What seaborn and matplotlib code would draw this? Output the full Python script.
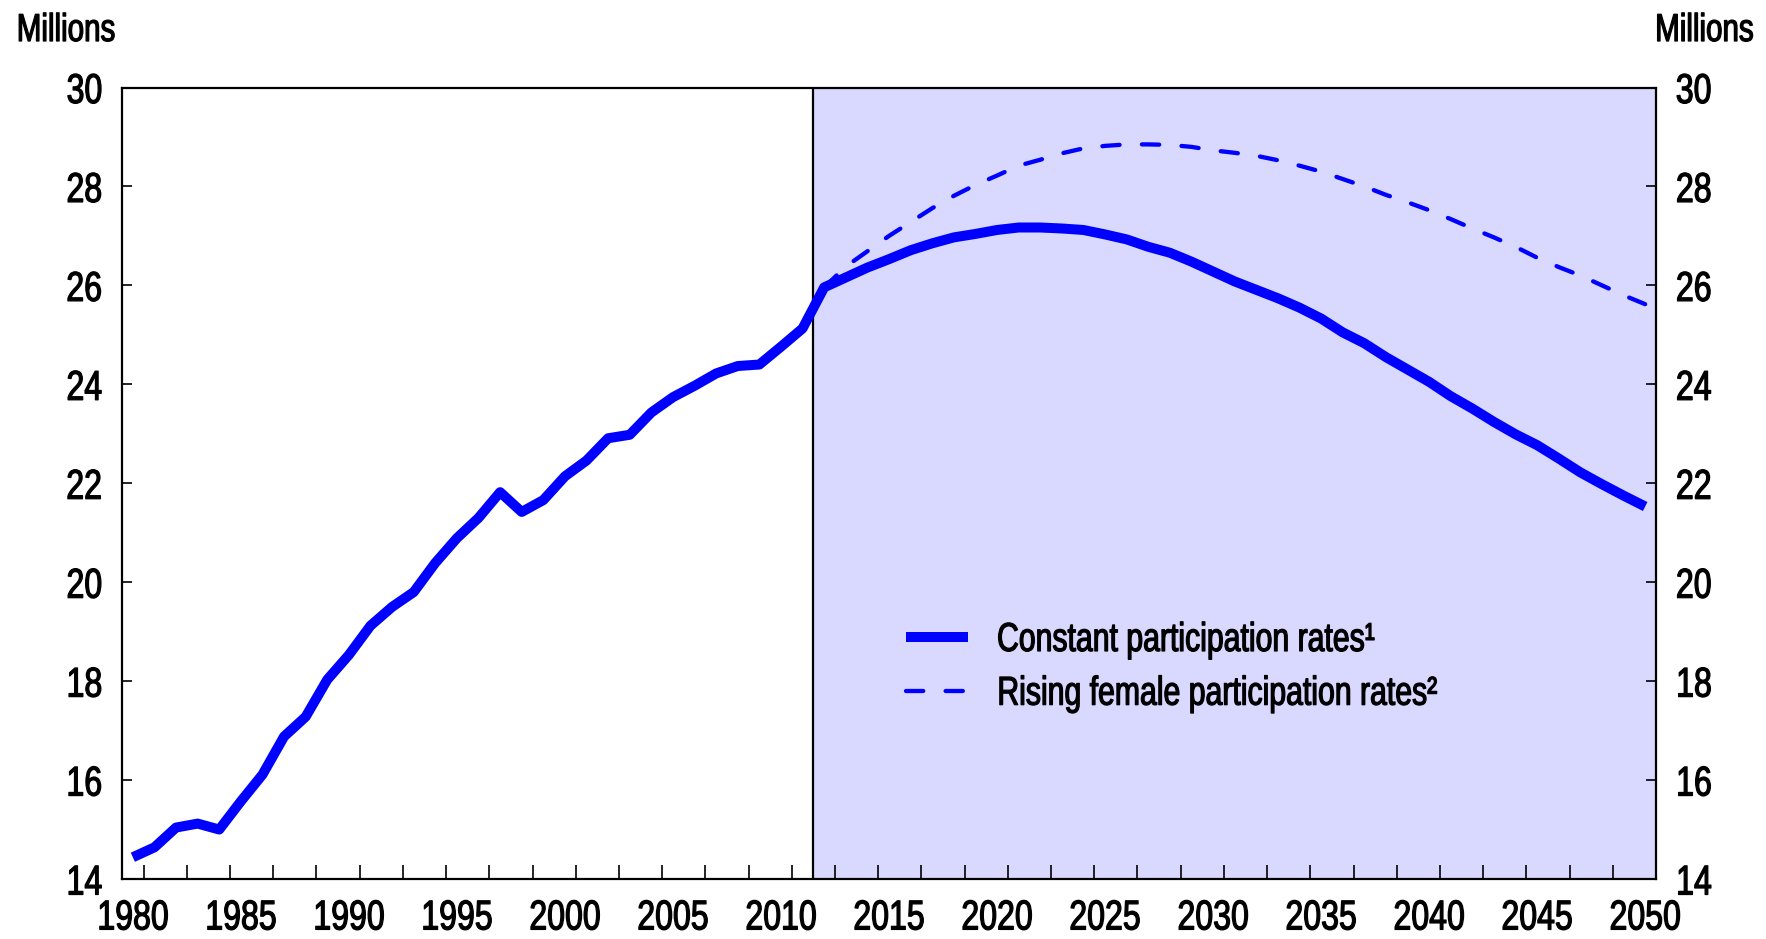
import numpy as np
import pandas as pd
import matplotlib.pyplot as plt
import seaborn as sns
from matplotlib.ticker import FixedLocator
from matplotlib.patheffects import AbstractPathEffect
from matplotlib.transforms import Affine2D

sns.set_style("ticks")
plt.rcParams['font.family'] = ['Liberation Sans', 'DejaVu Sans']
plt.rcParams.update({'text.color': 'black', 'xtick.color': 'black',
                     'ytick.color': 'black', 'axes.labelcolor': 'black'})

# labour force, millions
years = list(range(1980, 2051))
constant = [
    14.44, 14.64, 15.04, 15.12, 15.00, 15.57, 16.11, 16.88, 17.28, 18.03,
    18.53, 19.12, 19.50, 19.80, 20.39, 20.89, 21.30, 21.82, 21.42, 21.66,
    22.14, 22.46, 22.91, 22.98, 23.43, 23.74, 23.97, 24.22, 24.37, 24.40,
    24.76, 25.13, 25.96, 26.16, 26.36, 26.53, 26.71, 26.85, 26.97, 27.04,
    27.12, 27.17, 27.17, 27.15, 27.12, 27.03, 26.93, 26.78, 26.66, 26.48,
    26.28, 26.08, 25.91, 25.74, 25.55, 25.33, 25.05, 24.83, 24.55, 24.30,
    24.05, 23.76, 23.51, 23.24, 22.99, 22.77, 22.50, 22.22, 21.98, 21.75,
    21.53,
]
rising_years = list(range(2012, 2051))
rising = [
    25.96, 26.38, 26.69, 27.00, 27.28, 27.56, 27.81, 28.03,
    28.22, 28.42, 28.54, 28.67, 28.77, 28.82, 28.85, 28.85, 28.84, 28.80,
    28.73, 28.68, 28.62, 28.53, 28.42, 28.30, 28.15, 28.00, 27.83, 27.68,
    27.52, 27.34, 27.15, 26.97, 26.78, 26.56, 26.37, 26.20, 26.00, 25.80,
    25.62,
]
projection_start = 2011.5
label_const = "Constant participation rates\u00b9"
label_rising = "Rising female participation rates\u00b2"


class Narrow(AbstractPathEffect):
    # squeeze glyphs horizontally (no condensed font installed)
    def __init__(self, sx=0.75, anchor="center", stroke=0.9):
        super().__init__()
        self.sx = sx
        self.anchor = anchor
        self.stroke = stroke

    def draw_path(self, renderer, gc, tpath, affine, rgbFace=None):
        ext = tpath.get_extents()
        if self.anchor == "left":
            cx = ext.x0
        elif self.anchor == "right":
            cx = ext.x1
        else:
            cx = (ext.x0 + ext.x1) / 2
        t = Affine2D().translate(-cx, 0).scale(self.sx, 1).translate(cx, 0) + affine
        gc0 = renderer.new_gc()
        gc0.copy_properties(gc)
        if rgbFace is not None and self.stroke:
            gc0.set_linewidth(self.stroke)
            gc0.set_foreground(rgbFace)
            gc0.set_joinstyle("round")
        renderer.draw_path(gc0, tpath, t, rgbFace)
        gc0.restore()


df_const = pd.DataFrame({"year": years, "value": constant})
df_rising = pd.DataFrame({"year": rising_years, "value": rising})

fig, ax = plt.subplots(figsize=(17.66, 9.39), dpi=100)
fig.subplots_adjust(left=0.0691, right=0.9377, bottom=0.0639, top=0.9068)

blue = "#0000FF"
ax.axvspan(projection_start, 2050.5, color="#D9D9FF", lw=0, zorder=0)
ax.axvline(projection_start, color="black", lw=1.6, zorder=1)

sns.lineplot(data=df_const, x="year", y="value", ax=ax, color=blue, lw=7.2,
             label=label_const, zorder=3, solid_capstyle="butt")
sns.lineplot(data=df_rising, x="year", y="value", ax=ax, color=blue, lw=3.1,
             linestyle=(0, (4, 5.2)), dash_capstyle="round",
             label=label_rising, zorder=2)

ax.set_xlim(1979.5, 2050.5)
ax.set_ylim(14, 30)
ax.set_xlabel("")
ax.set_ylabel("")

ax.xaxis.set_major_locator(FixedLocator(list(range(1980, 2051, 5))))
ax.xaxis.set_minor_locator(FixedLocator(list(np.arange(1980.5, 2050, 2))))
ax.set_yticks(list(range(14, 31, 2)))
ax.tick_params(axis="x", which="major", length=0, pad=14, labelsize=30)
ax.tick_params(axis="x", which="minor", direction="in", length=10, width=1.2)
ax.tick_params(axis="y", direction="in", length=7, width=1.2, labelsize=30,
               left=True, right=True, labelleft=True, labelright=True, pad=14)

for s in ax.spines.values():
    s.set_visible(True)
    s.set_linewidth(1.6)
    s.set_color("black")

leg = ax.legend(frameon=False, loc="upper left", bbox_to_anchor=(0.511, 0.326),
                fontsize=29, handlelength=1.55, handletextpad=0.7,
                labelspacing=0.39, borderpad=0, borderaxespad=0)
for t in leg.get_texts():
    t.set_color("black")
    t.set_path_effects([Narrow(0.75, "left")])

fig.text(16 / 1766, 1 - 31 / 939, "Millions", fontsize=28, ha="left", va="center",
         color="black", path_effects=[Narrow(0.76, "left")])
fig.text(1754 / 1766, 1 - 31 / 939, "Millions", fontsize=28, ha="right", va="center",
         color="black", path_effects=[Narrow(0.76, "right")])

for tick in ax.xaxis.get_major_ticks():
    tick.label1.set_path_effects([Narrow(0.77, "center")])
for tick in ax.yaxis.get_major_ticks():
    tick.label1.set_path_effects([Narrow(0.77, "right")])
    tick.label2.set_path_effects([Narrow(0.77, "left")])

fig.savefig("out.png", dpi=100)
